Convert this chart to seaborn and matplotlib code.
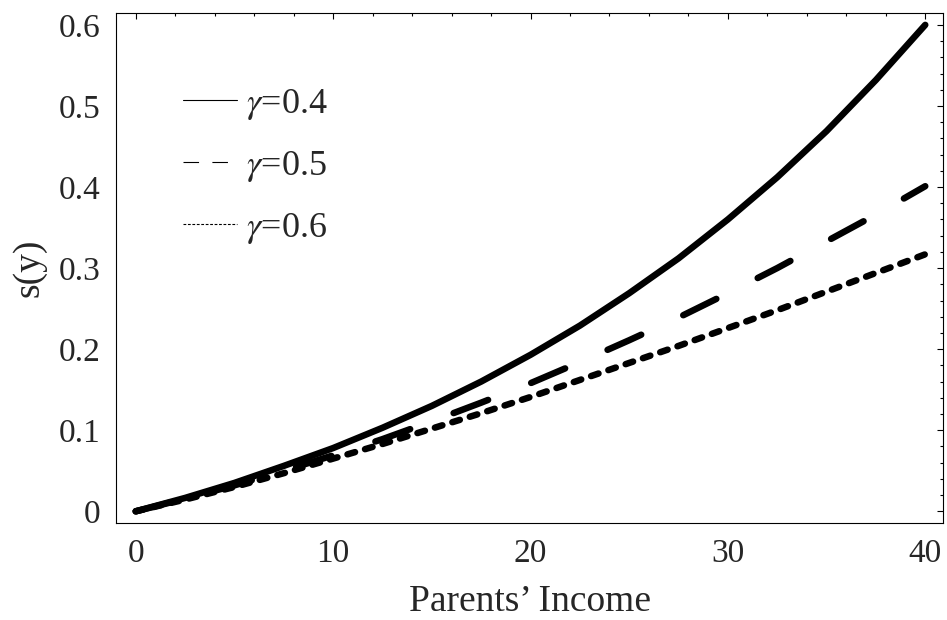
import numpy as np
import pandas as pd
import matplotlib
matplotlib.use('Agg')
import matplotlib.pyplot as plt
import seaborn as sns
from matplotlib.lines import Line2D
from matplotlib.ticker import MultipleLocator, FuncFormatter

# values
income = [0, 2.5, 5, 7.5, 10, 12.5, 15, 17.5, 20, 22.5, 25, 27.5, 30, 32.5, 35, 37.5, 40]
s_g04 = [0, 0.0165, 0.035, 0.056, 0.078, 0.103, 0.130, 0.160, 0.193, 0.229, 0.269,
         0.312, 0.360, 0.412, 0.469, 0.532, 0.600]
s_g05 = [0, 0.0155, 0.032, 0.050, 0.069, 0.089, 0.111, 0.134, 0.158, 0.184, 0.211,
         0.239, 0.269, 0.300, 0.333, 0.366, 0.401]
s_g06 = [0, 0.0145, 0.030, 0.047, 0.065, 0.083, 0.102, 0.121, 0.141, 0.162, 0.183,
         0.204, 0.226, 0.248, 0.271, 0.294, 0.317]
gammas = ['0.4', '0.5', '0.6']

df = pd.DataFrame({
    'income': income * 3,
    's': s_g04 + s_g05 + s_g06,
    'gamma': [g for g in gammas for _ in income],
})

sns.set_theme(style='white')
plt.rcParams['font.family'] = ['Liberation Serif', 'DejaVu Serif']
plt.rcParams['mathtext.fontset'] = 'stix'

fig = plt.figure(figsize=(9.47, 6.2), dpi=100)
ax = fig.add_axes([0.1225, 0.1565, 0.8733, 0.823])

dash_map = {'0.4': '', '0.5': (5.65, 7.1), '0.6': (1.2, 1.6)}
sns.lineplot(data=df, x='income', y='s', style='gamma', dashes=dash_map,
             color='black', lw=4.7, legend=False, ax=ax,
             dash_capstyle='round', solid_capstyle='round',
             solid_joinstyle='round')

ax.set_xlim(-1.0, 40.9)
ax.set_ylim(-0.0144, 0.615)
ax.set_xticks([0, 10, 20, 30, 40])
ax.set_yticks([0, 0.1, 0.2, 0.3, 0.4, 0.5, 0.6])
ax.xaxis.set_minor_locator(MultipleLocator(2))
ax.yaxis.set_minor_locator(MultipleLocator(0.02))
ax.yaxis.set_major_formatter(FuncFormatter(lambda v, p: '%g' % round(v, 2)))
ax.tick_params(which='both', direction='in', top=True, right=True,
               color='black', width=0.8, labelsize=24)
ax.tick_params(which='major', length=4)
ax.tick_params(which='minor', length=2.2)
ax.tick_params(axis='x', pad=11)
ax.tick_params(axis='y', pad=11)
for sp in ax.spines.values():
    sp.set_color('black')
    sp.set_linewidth(0.8)

ax.set_xlabel('Parents\u2019 Income', fontsize=27, labelpad=11)
ax.set_ylabel('s(y)', fontsize=27, labelpad=9)

handles = [
    Line2D([], [], color='black', lw=0.8),
    Line2D([], [], color='black', lw=0.8, dashes=(14, 12)),
    Line2D([], [], color='black', lw=0.8, dashes=(2.5, 1.5)),
]
labels = [r'$\gamma$=' + g for g in gammas]
ax.legend(handles, labels, loc='upper left', bbox_to_anchor=(0.059, 0.89),
          frameon=False, fontsize=26, handlelength=1.5, handletextpad=0.25,
          labelspacing=0.75, borderpad=0)

fig.savefig('out.png', dpi=100)
